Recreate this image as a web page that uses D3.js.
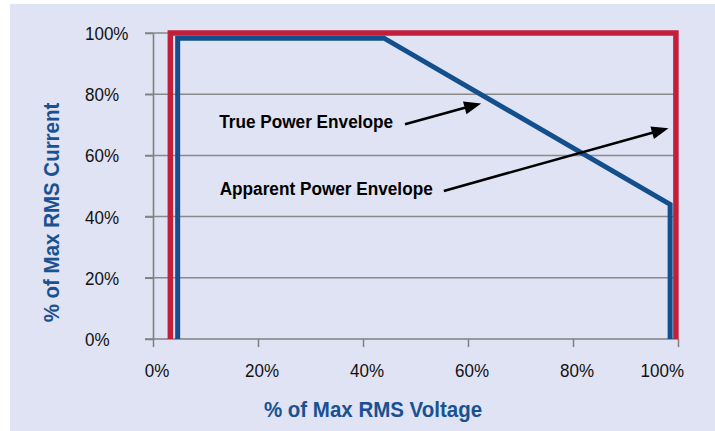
<!DOCTYPE html>
<html>
<head>
<meta charset="utf-8">
<script src="https://cdn.jsdelivr.net/npm/d3@7"></script>
<style>
  html, body { margin: 0; padding: 0; background: #ffffff; }
  svg { display: block; }
  text { font-family: "Liberation Sans", Arial, sans-serif; }
</style>
</head>
<body>
<svg id="chart" width="715" height="431"></svg>
<script>
// ---- data ----
const xTicks = [0, 20, 40, 60, 80, 100];
const yTicks = [0, 20, 40, 60, 80, 100];
const xTickLabels = ["0%", "20%", "40%", "60%", "80%", "100%"];
const yTickLabels = ["0%", "20%", "40%", "60%", "80%", "100%"];

const apparentVoltage = [3.3, 3.3, 99.6, 99.6];
const apparentCurrent = [0, 100, 100, 0];

const trueVoltage = [4.7, 4.7, 44.0, 98.5, 98.5];
const trueCurrent = [0, 98.3, 98.3, 44.0, 0];

const annotationLabels = ["True Power Envelope", "Apparent Power Envelope"];
const annotationTextX = [12.6, 12.7];
const annotationTextY = [68.8, 47.0];
const arrowFromX = [48.0, 55.4];
const arrowFromY = [70.2, 48.4];
const arrowToX = [62.5, 98.2];
const arrowToY = [77.0, 68.9];

const xTitle = "% of Max RMS Voltage";
const yTitle = "% of Max RMS Current";

// ---- layout ----
const svg = d3.select("#chart");
const plotLeft = 153, plotRight = 678, plotTop = 33, plotBottom = 339;
const squeeze = 0.91; // horizontally condensed lettering

const x = d3.scaleLinear().domain([0, 100]).range([plotLeft, plotRight]);
const y = d3.scaleLinear().domain([0, 100]).range([plotBottom, plotTop]);

function place(sel, tx, ty, rot) {
  sel.attr("transform", `translate(${tx},${ty})${rot ? ` rotate(${rot})` : ""} scale(${squeeze},1)`);
}

svg.append("rect").attr("x", 10).attr("y", 4).attr("width", 705).attr("height", 427)
  .attr("fill", "#dfe3f3");

// gridlines
svg.append("g").selectAll("line").data(yTicks.filter(d => d > 0)).join("line")
  .attr("x1", plotLeft - 8).attr("x2", plotRight)
  .attr("y1", d => y(d)).attr("y2", d => y(d))
  .attr("stroke", "#8a8a8a").attr("stroke-width", 1.5);

// y axis
const yAxis = svg.append("g").attr("transform", `translate(${plotLeft},0)`)
  .call(d3.axisLeft(y).tickValues(yTicks).tickSize(8).tickSizeOuter(0).tickFormat(""));
yAxis.select(".domain").attr("stroke", "#808080").attr("stroke-width", 1.6);
yAxis.selectAll(".tick line").attr("stroke", "#808080").attr("stroke-width", 1.5);

// x axis
const xAxis = svg.append("g").attr("transform", `translate(0,${plotBottom})`)
  .call(d3.axisBottom(x).tickValues(xTicks).tickSize(8).tickSizeOuter(0).tickFormat(""));
xAxis.select(".domain").attr("stroke", "#808080").attr("stroke-width", 1.6)
  .attr("d", `M${plotLeft - 8},0H${plotRight}`);
xAxis.selectAll(".tick line").attr("stroke", "#808080").attr("stroke-width", 1.5);

const tickFont = 17 / squeeze;

// y tick labels (left aligned)
svg.append("g").selectAll("text").data(yTicks).join("text")
  .each(function (d) { place(d3.select(this), 85, y(d) + 7); })
  .attr("font-size", tickFont).attr("fill", "#111")
  .text((d, i) => yTickLabels[i]);

// x tick labels
const labelRightLimit = 684;
svg.append("g").selectAll("text").data(xTicks).join("text")
  .attr("text-anchor", "middle")
  .attr("font-size", tickFont).attr("fill", "#111")
  .text((d, i) => xTickLabels[i])
  .each(function (d) {
    const t = d3.select(this);
    let cx = x(d) + 4;
    place(t, cx, plotBottom + 38);
    const w = this.getComputedTextLength() * squeeze;
    if (cx + w / 2 > labelRightLimit) { cx = labelRightLimit - w / 2; place(t, cx, plotBottom + 38); }
  });

// lines
const line = d3.line().x(d => x(d[0])).y(d => y(d[1]));
svg.append("path")
  .datum(apparentVoltage.map((v, i) => [v, apparentCurrent[i]]))
  .attr("d", line).attr("fill", "none")
  .attr("stroke", "#c21f3a").attr("stroke-width", 5.5).attr("stroke-linejoin", "miter");
svg.append("path")
  .datum(trueVoltage.map((v, i) => [v, trueCurrent[i]]))
  .attr("d", line).attr("fill", "none")
  .attr("stroke", "#134f8c").attr("stroke-width", 5).attr("stroke-linejoin", "miter");

// annotations
annotationLabels.forEach((lab, i) => {
  const t = svg.append("text")
    .attr("font-size", 17.2 / squeeze).attr("font-weight", "bold").attr("fill", "#000")
    .text(lab);
  place(t, x(annotationTextX[i]), y(annotationTextY[i]));
  const x0 = x(arrowFromX[i]), y0 = y(arrowFromY[i]);
  const x1 = x(arrowToX[i]), y1 = y(arrowToY[i]);
  const ang = Math.atan2(y1 - y0, x1 - x0);
  const hl = 17, hw = 6.5;
  const bx = x1 - hl * Math.cos(ang), by = y1 - hl * Math.sin(ang);
  svg.append("line")
    .attr("x1", x0).attr("y1", y0).attr("x2", bx + 2 * Math.cos(ang)).attr("y2", by + 2 * Math.sin(ang))
    .attr("stroke", "#000").attr("stroke-width", 2.6);
  const px = -Math.sin(ang), py = Math.cos(ang);
  svg.append("path")
    .attr("d", `M${x1},${y1}L${bx + hw * px},${by + hw * py}L${bx - hw * px},${by - hw * py}Z`)
    .attr("fill", "#000");
});

// axis titles
const xt = svg.append("text")
  .attr("text-anchor", "middle")
  .attr("font-size", 20.5 / squeeze).attr("font-weight", "bold").attr("fill", "#1a5191")
  .text(xTitle);
place(xt, 373, 417);
const yt = svg.append("text")
  .attr("text-anchor", "middle")
  .attr("font-size", 20.5 / squeeze).attr("font-weight", "bold").attr("fill", "#1a5191")
  .text(yTitle);
place(yt, 59, 212.5, -90);
</script>
</body>
</html>
